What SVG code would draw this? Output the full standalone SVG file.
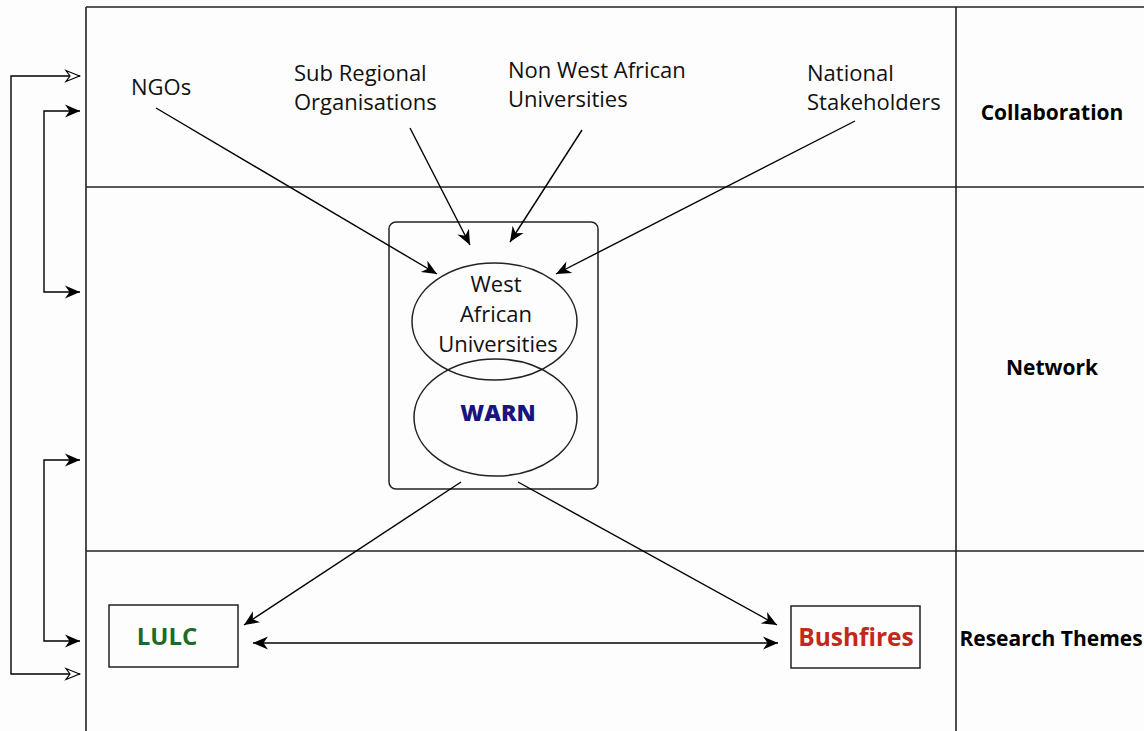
<svg xmlns="http://www.w3.org/2000/svg" width="1144" height="731" viewBox="0 0 1144 731">
<defs>
<marker id="ah" markerUnits="userSpaceOnUse" markerWidth="20" markerHeight="16" viewBox="-16 -8 20 16" refX="0" refY="0" orient="auto">
<path d="M0,0 L-15,-6.5 L-10.5,0 L-15,6.5 Z" fill="#000"/>
</marker>
<marker id="ahs" markerUnits="userSpaceOnUse" markerWidth="20" markerHeight="16" viewBox="-16 -8 20 16" refX="0" refY="0" orient="auto-start-reverse">
<path d="M0,0 L-15,-6.5 L-10.5,0 L-15,6.5 Z" fill="#000"/>
</marker>
<marker id="aho" markerUnits="userSpaceOnUse" markerWidth="20" markerHeight="16" viewBox="-16 -8 20 16" refX="0" refY="0" orient="auto-start-reverse">
<path d="M-0.5,0 L-14,-5.5 L-10,0 L-14,5.5 Z" fill="#fff" stroke="#000" stroke-width="1.2"/>
</marker>
</defs>
<style>
.ln{stroke:#222;stroke-width:1.6;fill:none}
.c{stroke:#000;stroke-width:1.4;fill:none}
.t{font-family:"Open Sans","Liberation Sans",sans-serif;font-size:22px;fill:#111}
.h{font-family:"Open Sans","Liberation Sans",sans-serif;font-size:21px;font-weight:bold;fill:#000}
.shape{fill:none;stroke:#222;stroke-width:1.5}
</style>
<rect width="1144" height="731" fill="#fdfdfd"/>
<g id="grid">
<line class="ln" x1="86" y1="7" x2="1144" y2="7"/>
<line class="ln" x1="86" y1="187" x2="1144" y2="187"/>
<line class="ln" x1="86" y1="551" x2="1144" y2="551"/>
<line class="ln" x1="86" y1="7" x2="86" y2="731"/>
<line class="ln" x1="956" y1="7" x2="956" y2="731"/>
</g>
<g id="row-labels">
<text class="h" x="1052" y="120" text-anchor="middle">Collaboration</text>
<text class="h" x="1052" y="375" text-anchor="middle">Network</text>
<text class="h" x="1051" y="646" text-anchor="middle">Research Themes</text>
</g>
<g id="ngos"><text class="t" x="131" y="95">NGOs</text></g>
<g id="sub-regional"><text class="t" x="294" y="81">Sub Regional</text><text class="t" x="294" y="110">Organisations</text></g>
<g id="non-west-african"><text class="t" x="508" y="78">Non West African</text><text class="t" x="508" y="107">Universities</text></g>
<g id="national"><text class="t" x="807" y="81">National</text><text class="t" x="807" y="110">Stakeholders</text></g>
<g id="network-box">
<rect class="shape" x="389" y="222" width="209" height="267" rx="7"/>
</g>
<g id="west-african-universities">
<ellipse class="shape" cx="494.5" cy="321.5" rx="82.5" ry="58.5"/>
<text class="t" x="496" y="292" text-anchor="middle">West</text>
<text class="t" x="496" y="322" text-anchor="middle">African</text>
<text class="t" x="498" y="352" text-anchor="middle" font-size="21">Universities</text>
</g>
<g id="warn">
<ellipse class="shape" cx="495.5" cy="417.5" rx="81.5" ry="58.5"/>
<text x="498" y="421" text-anchor="middle" font-family="'Open Sans','Liberation Sans',sans-serif" font-size="23" font-weight="900" fill="#1a1480">WARN</text>
</g>
<g id="lulc">
<rect class="shape" x="109" y="605" width="129" height="62"/>
<text x="167" y="645" text-anchor="middle" font-family="'Open Sans','Liberation Sans',sans-serif" font-size="24" font-weight="bold" fill="#1e6b25">LULC</text>
</g>
<g id="bushfires">
<rect class="shape" x="791" y="606" width="129" height="62"/>
<text x="856" y="646" text-anchor="middle" font-family="'Open Sans','Liberation Sans',sans-serif" font-size="24.5" font-weight="bold" fill="#c3281c">Bushfires</text>
</g>
<g id="connectors">
<line class="c" x1="156" y1="108" x2="437" y2="274" marker-end="url(#ah)"/>
<line class="c" x1="410" y1="128" x2="470" y2="245" marker-end="url(#ah)"/>
<line class="c" x1="582" y1="130" x2="510" y2="242" marker-end="url(#ah)"/>
<line class="c" x1="855" y1="121" x2="556" y2="274" marker-end="url(#ah)"/>
<line class="c" x1="461" y1="482" x2="244" y2="625" marker-end="url(#ah)"/>
<line class="c" x1="518" y1="482" x2="777" y2="625" marker-end="url(#ah)"/>
<line class="c" x1="253" y1="643" x2="778" y2="643" marker-start="url(#ahs)" marker-end="url(#ah)"/>
<polyline class="c" points="80,76 11,76 11,674 80,674" marker-start="url(#aho)" marker-end="url(#aho)"/>
<polyline class="c" points="80,111 44,111 44,292 80,292" marker-start="url(#ahs)" marker-end="url(#ah)"/>
<polyline class="c" points="80,460 44,460 44,641 80,641" marker-start="url(#ahs)" marker-end="url(#ah)"/>
</g>
</svg>
